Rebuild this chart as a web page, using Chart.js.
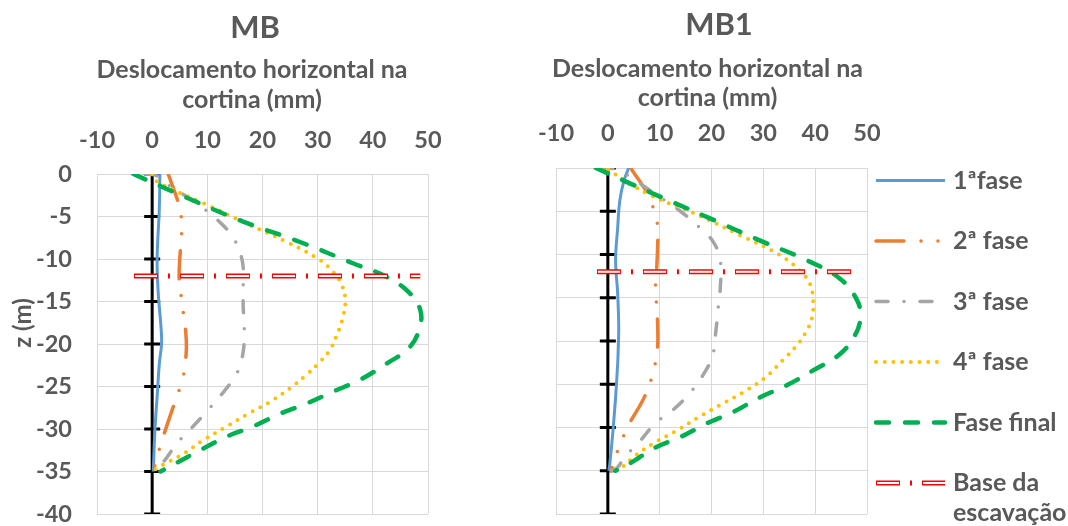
<!DOCTYPE html>
<html><head><meta charset="utf-8">
<script src="https://cdn.jsdelivr.net/npm/chart.js@4"></script>
<style>
html,body{margin:0;padding:0;background:#fff;}
body{width:1068px;height:526px;position:relative;overflow:hidden;}
#c1{position:absolute;left:0;top:0;}
#c2{position:absolute;left:440px;top:0;}
</style></head><body>
<canvas id="c1" width="450" height="526"></canvas>
<canvas id="c2" width="628" height="526"></canvas>
<script>
// ---- data ----
const xTicks = [-10, 0, 10, 20, 30, 40, 50];
const yTicks = [0, -5, -10, -15, -20, -25, -30, -35, -40];
const seriesLabels = ['1ªfase', '2ª fase', '3ª fase', '4ª fase', 'Fase final', ['Base da', 'escavação']];
const panelTitles = ['MB', 'MB1'];
const axisTitleX = ['Deslocamento horizontal na', 'cortina (mm)'];
const axisTitleY = 'z (m)';
const baseDepth = -12;

// MB  [x (mm), z (m)]
const mbFase1 = [[1.4,0],[1.3,-4],[0.9,-10],[1.1,-14],[1.6,-18],[1.7,-20],[1.3,-22.3],[0.9,-26.2],[0.5,-30.1],[0.2,-35]];
const mbFase2 = [[2.9,0],[4.7,-3.3],[5.3,-5.2],[5.3,-7.4],[5.0,-10],[4.9,-12.3],[5.3,-14.6],[5.7,-16.6],[6.1,-18.7],[6.2,-20.5],[6.0,-22.2],[5.6,-23.9],[4.7,-25.8],[3.6,-27.8],[2.0,-30.9],[1.1,-32.8],[0.2,-35]];
const mbFase3 = [[-1.3,0],[0.5,-0.1],[2.9,-1.3],[5.4,-2.3],[9.2,-4],[12,-5.5],[14.7,-7.5],[16.3,-10.1],[16.5,-12.8],[16.5,-15.6],[16.7,-18],[16.5,-20.9],[15.4,-23.4],[13,-25.6],[10.5,-27.5],[7.4,-29.7],[4.5,-31.7],[2,-33.9],[0.2,-35]];
const mbFase4 = [[0,0],[0.9,-0.9],[9.2,-3.4],[17.7,-6],[24.4,-8],[29.9,-9.9],[32.8,-11.5],[34.4,-13.1],[35,-14.8],[34.6,-16.8],[33.5,-18.9],[32.2,-20.7],[30.1,-22.3],[28,-23.6],[25.4,-25],[21.4,-26.8],[17.4,-28.2],[13.5,-29.7],[9.3,-31.3],[5.7,-32.9],[2,-34.2],[0.5,-34.8]];
const mbFinal = [[-3.4,0],[6.3,-2.8],[16.5,-5.6],[26.8,-8],[36.4,-10.5],[42.5,-12.1],[46.5,-13.9],[48.6,-16],[48.4,-18.3],[46.5,-20.5],[42.5,-22.3],[37.7,-24.2],[32.8,-25.6],[28,-27],[23.2,-28.2],[18.3,-29.7],[13.5,-30.9],[8.7,-32.5],[3.8,-34.2],[1.5,-35]];
const mbBaseX = [-3.3, 48.6];

// MB1
const mb1Fase1 = [[4,0],[3.1,-1.5],[2.3,-3.8],[1.9,-6.9],[1.5,-10.7],[1.9,-14.5],[2.1,-18.4],[2.0,-21],[1.9,-22.6],[1.5,-26.5],[1,-30.3],[0.4,-34.1],[0.2,-35]];
const mb1Fase2 = [[4.4,0],[7.7,-3],[8.9,-4.9],[9.6,-6.7],[9.6,-9.2],[9.4,-11.9],[9.2,-13.8],[9.4,-15.9],[9.6,-18],[9.6,-20.7],[9,-23],[8.1,-24.9],[6.7,-26.9],[4,-29.7],[2.7,-31.5],[1.5,-33.3],[0.6,-35]];
const mb1Fase3 = [[-1.3,0],[1.5,-0.1],[4,-0.9],[9.6,-3.2],[14,-5],[17.9,-7],[20.4,-8.6],[21.7,-10.7],[21.7,-13.8],[21.3,-16.1],[20.8,-19.1],[20.2,-21.7],[18.3,-24],[15.4,-26.3],[12.5,-28],[9.2,-29.5],[6,-31.7],[3.1,-33.5],[1.9,-34.6],[0.6,-35]];
const mb1Fase4 = [[0,-0.2],[7.7,-3],[16.5,-5.2],[25.6,-7.8],[33.3,-10.1],[37.1,-11.9],[39,-13.4],[39.6,-15.3],[39.4,-17.3],[38.1,-19.1],[36.2,-20.7],[33.8,-22.2],[30.4,-24.2],[26.2,-25.9],[21.7,-27.4],[17.5,-28.8],[13.5,-30.3],[8.9,-31.8],[5,-33.4],[2.5,-34.7],[0.6,-35]];
const mb1Final = [[-2.3,0],[3.6,-1.6],[10.4,-3.4],[19.6,-5.8],[29.4,-8.4],[38.5,-10.7],[44.8,-12.8],[48.1,-15.3],[48.7,-17.3],[47.8,-19.2],[44.8,-21.5],[39.6,-23.4],[34.6,-25.1],[29.4,-26.5],[24.2,-28.2],[19.2,-29.5],[14,-31.1],[8.9,-32.4],[4.4,-34.1],[1.5,-35]];
const mb1BaseX = [-2.1, 48.6];

// ---- styles ----
const FONT = 'Lato';
const TEXT = '#595959';
const GRID = '#D9D9D9';
const COLORS = ['#5B9BD5', '#ED7D31', '#A5A5A5', '#FFC000', '#00B050', '#FF0000'];
const LINESTYLES = [
  {borderWidth: 3, borderDash: [], borderCapStyle: 'butt'},
  {borderWidth: 3.5, borderDash: [28, 17, 0, 17, 0, 17], borderCapStyle: 'round'},
  {borderWidth: 3.5, borderDash: [12, 16, 0, 16], borderCapStyle: 'round'},
  {borderWidth: 4, borderDash: [0, 8.7], borderCapStyle: 'round'},
  {borderWidth: 4.5, borderDash: [13, 16], borderCapStyle: 'round'}
];

function pts(arr) { return arr.map(([x, z]) => ({x: x, y: z})); }

function makeDatasets(series, baseX) {
  const ds = series.map((s, i) => Object.assign({
    label: seriesLabels[i], data: pts(s), borderColor: COLORS[i], backgroundColor: COLORS[i],
    showLine: true, pointRadius: 0, tension: 0.4, order: 5 - i, fill: false
  }, LINESTYLES[i]));
  const base = baseX.map(x => ({x: x, y: baseDepth}));
  ds.push({label: seriesLabels[5], data: base, borderColor: COLORS[5], borderWidth: 5,
    borderDash: [24, 10, 2, 10], borderCapStyle: 'butt', showLine: true, pointRadius: 0, tension: 0, order: -1});
  ds.push({label: '', overlay: true, data: base, borderColor: '#FFFFFF', borderWidth: 2,
    borderDash: [22, 24], borderDashOffset: -1, borderCapStyle: 'butt', showLine: true, pointRadius: 0, tension: 0, order: -2});
  ds.push({label: '', noLegend: true, data: yTicks.map(z => ({x: 0, y: z})), borderColor: '#000', borderWidth: 3,
    showLine: true, pointStyle: 'line', pointRadius: 8, pointBorderWidth: 3, pointBorderColor: '#000',
    pointBackgroundColor: '#000', tension: 0, order: 10});
  return ds;
}

function makeScales(o) {
  const tickFont = {family: FONT, size: 23.5, weight: 'bold'};
  return {
    x: {type: 'linear', position: 'top', min: -10, max: 50,
      afterBuildTicks: s => { s.ticks = xTicks.map(v => ({value: v})); },
      afterFit: s => { s.height = o.xh; s.paddingLeft = 0; s.paddingRight = 0; },
      grid: {color: GRID, lineWidth: 1, drawTicks: false},
      border: {display: true, color: GRID, width: 1},
      ticks: {padding: o.xpad, color: TEXT, font: tickFont, maxRotation: 0, autoSkip: false, callback: v => String(v)}},
    y: {type: 'linear', position: 'left', min: -40, max: 0,
      afterBuildTicks: s => { s.ticks = yTicks.slice().sort((a, b) => a - b).map(v => ({value: v})); },
      afterFit: s => { s.width = o.yw; s.paddingTop = 0; s.paddingBottom = 0; },
      grid: {color: GRID, lineWidth: 1, drawTicks: false},
      border: {display: true, color: GRID, width: 1},
      ticks: {display: o.ylabels, padding: 25, color: TEXT, font: tickFont, autoSkip: false, callback: v => String(v)}}
  };
}

const panelText = {
  id: 'panelText',
  afterDraw(chart, args, opts) {
    const ctx = chart.ctx;
    (opts.items || []).forEach(it => {
      ctx.save();
      ctx.font = 'bold ' + it.size + 'px ' + FONT;
      ctx.fillStyle = TEXT;
      ctx.textAlign = 'center';
      ctx.textBaseline = it.baseline || 'alphabetic';
      ctx.translate(it.x, it.y);
      if (it.rot) ctx.rotate(it.rot);
      ctx.fillText(it.text, 0, 0);
      ctx.restore();
    });
  }
};

const sideLegend = {
  id: 'sideLegend',
  afterDraw(chart, args, opts) {
    if (!opts.display) return;
    const ctx = chart.ctx;
    const items = [];
    chart.data.datasets.forEach(ds => {
      if (ds.noLegend) return;
      if (ds.overlay) { items[items.length - 1].sets.push(ds); return; }
      items.push({label: ds.label, sets: [ds]});
    });
    items.forEach((it, i) => {
      const y = opts.top + i * opts.spacing;
      it.sets.forEach(ds => {
        ctx.save();
        ctx.strokeStyle = ds.borderColor;
        ctx.lineWidth = ds.borderWidth;
        ctx.setLineDash(ds.borderDash || []);
        ctx.lineDashOffset = ds.borderDashOffset || 0;
        ctx.lineCap = ds.borderCapStyle || 'butt';
        ctx.beginPath(); ctx.moveTo(opts.x0, y); ctx.lineTo(opts.x1, y); ctx.stroke();
        ctx.restore();
      });
      const lines = Array.isArray(it.label) ? it.label : [it.label];
      ctx.save();
      ctx.font = 'bold ' + opts.size + 'px ' + FONT;
      ctx.fillStyle = TEXT;
      ctx.textAlign = 'left';
      ctx.textBaseline = 'middle';
      lines.forEach((l, k) => ctx.fillText(l, opts.tx, y + k * opts.lineGap));
      ctx.restore();
    });
  }
};

function build(canvas, series, baseX, cfg) {
  return new Chart(canvas, {
    type: 'scatter',
    data: {datasets: makeDatasets(series, baseX)},
    options: {
      responsive: false, animation: false, events: [],
      layout: {padding: {left: 0, top: 0, right: cfg.padR, bottom: 12}},
      scales: makeScales(cfg),
      plugins: {
        legend: {display: false}, tooltip: {enabled: false}, title: {display: false},
        panelText: {items: cfg.texts},
        sideLegend: cfg.legend || {display: false}
      }
    },
    plugins: [panelText, sideLegend]
  });
}

function init() {
  build(document.getElementById('c1'), [mbFase1, mbFase2, mbFase3, mbFase4, mbFinal], mbBaseX, {
    xh: 174, yw: 97, xpad: 19, padR: 22, ylabels: true,
    texts: [
      {text: panelTitles[0], x: 255, y: 38, size: 31},
      {text: axisTitleX[0], x: 252, y: 78, size: 25},
      {text: axisTitleX[1], x: 252, y: 108, size: 25},
      {text: axisTitleY, x: 23, y: 323, size: 24, rot: -Math.PI / 2, baseline: 'middle'}
    ]
  });
  build(document.getElementById('c2'), [mb1Fase1, mb1Fase2, mb1Fase3, mb1Fase4, mb1Final], mb1BaseX, {
    xh: 168, yw: 116, xpad: 20, padR: 201, ylabels: false,
    texts: [
      {text: panelTitles[1], x: 279, y: 35, size: 31},
      {text: axisTitleX[0], x: 267.5, y: 77, size: 25},
      {text: axisTitleX[1], x: 267.5, y: 106, size: 25}
    ],
    legend: {display: true, x0: 436, x1: 505, tx: 513, top: 180.5, spacing: 60.5, lineGap: 30, size: 25}
  });
}

if (document.fonts && document.fonts.load) {
  Promise.all([document.fonts.load('bold 23px Lato'), document.fonts.load('bold 31px Lato')]).then(init, init);
} else { init(); }
</script>
</body></html>
